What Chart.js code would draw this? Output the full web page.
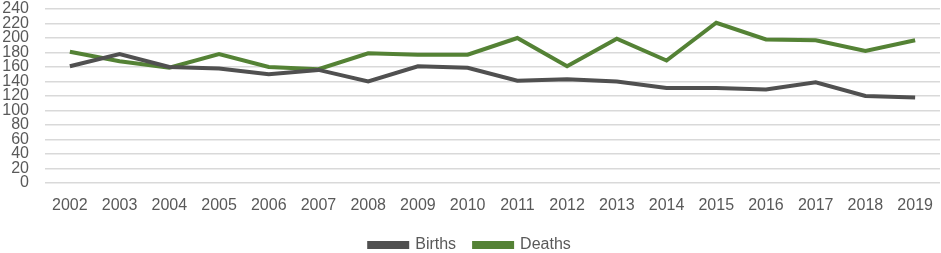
<!DOCTYPE html>
<html>
<head>
<meta charset="utf-8">
<script src="https://cdn.jsdelivr.net/npm/chart.js@4"></script>
<style>
  html, body { margin: 0; padding: 0; background: #fff; }
  #wrap { width: 941px; height: 253px; position: relative; }
</style>
</head>
<body>
<div id="wrap"><canvas id="chart"></canvas></div>
<script>
// ---------- DATA ----------
const years = ["2002","2003","2004","2005","2006","2007","2008","2009","2010","2011","2012","2013","2014","2015","2016","2017","2018","2019"];
const births = [161, 178, 160, 158, 150, 156, 140, 161, 159, 141, 143, 140, 131, 131, 129, 139, 120, 118];
const deaths = [181, 168, 159, 178, 160, 157, 179, 177, 177, 200, 161, 199, 169, 221, 198, 197, 182, 197];
const yTicks = [0, 20, 40, 60, 80, 100, 120, 140, 160, 180, 200, 220, 240];

const FONT = "'Liberation Sans', Arial, sans-serif";
const TEXT = "#595959";
const GREY = "#505050";
const GREEN = "#548235";

new Chart(document.getElementById("chart").getContext("2d"), {
  type: "line",
  data: {
    labels: years,
    datasets: [
      { label: "Births", data: births, borderColor: GREY, backgroundColor: GREY, borderWidth: 4, pointRadius: 0, tension: 0 },
      { label: "Deaths", data: deaths, borderColor: GREEN, backgroundColor: GREEN, borderWidth: 4, pointRadius: 0, tension: 0 }
    ]
  },
  options: {
    responsive: true, maintainAspectRatio: false, animation: false,
    layout: { padding: { left: 0, right: 1, top: 9, bottom: -10 } },
    plugins: {
      legend: {
        position: "bottom",
        labels: { color: TEXT, font: { family: FONT, size: 16 }, boxWidth: 38, boxHeight: 4, padding: 18 }
      },
      tooltip: { enabled: false }
    },
    scales: {
      x: {
        offset: true,
        grid: { display: false, drawTicks: false },
        border: { display: false },
        ticks: { color: TEXT, font: { family: FONT, size: 16 }, maxRotation: 0, autoSkip: false, padding: 13 },
        afterFit: axis => { axis.height = 36; axis.paddingLeft = 0; axis.paddingRight = 0; }
      },
      y: {
        min: 0, max: 240,
        afterBuildTicks: axis => { axis.ticks = yTicks.map(v => ({ value: v })); },
        grid: { color: "#d9d9d9", lineWidth: 1.5, drawTicks: false },
        border: { display: false },
        ticks: { color: TEXT, font: { family: FONT, size: 16 }, padding: 16, autoSkip: false },
        afterFit: axis => { axis.width = 45; axis.paddingTop = 0; axis.paddingBottom = 0; }
      }
    }
  }
});
</script>
</body>
</html>
